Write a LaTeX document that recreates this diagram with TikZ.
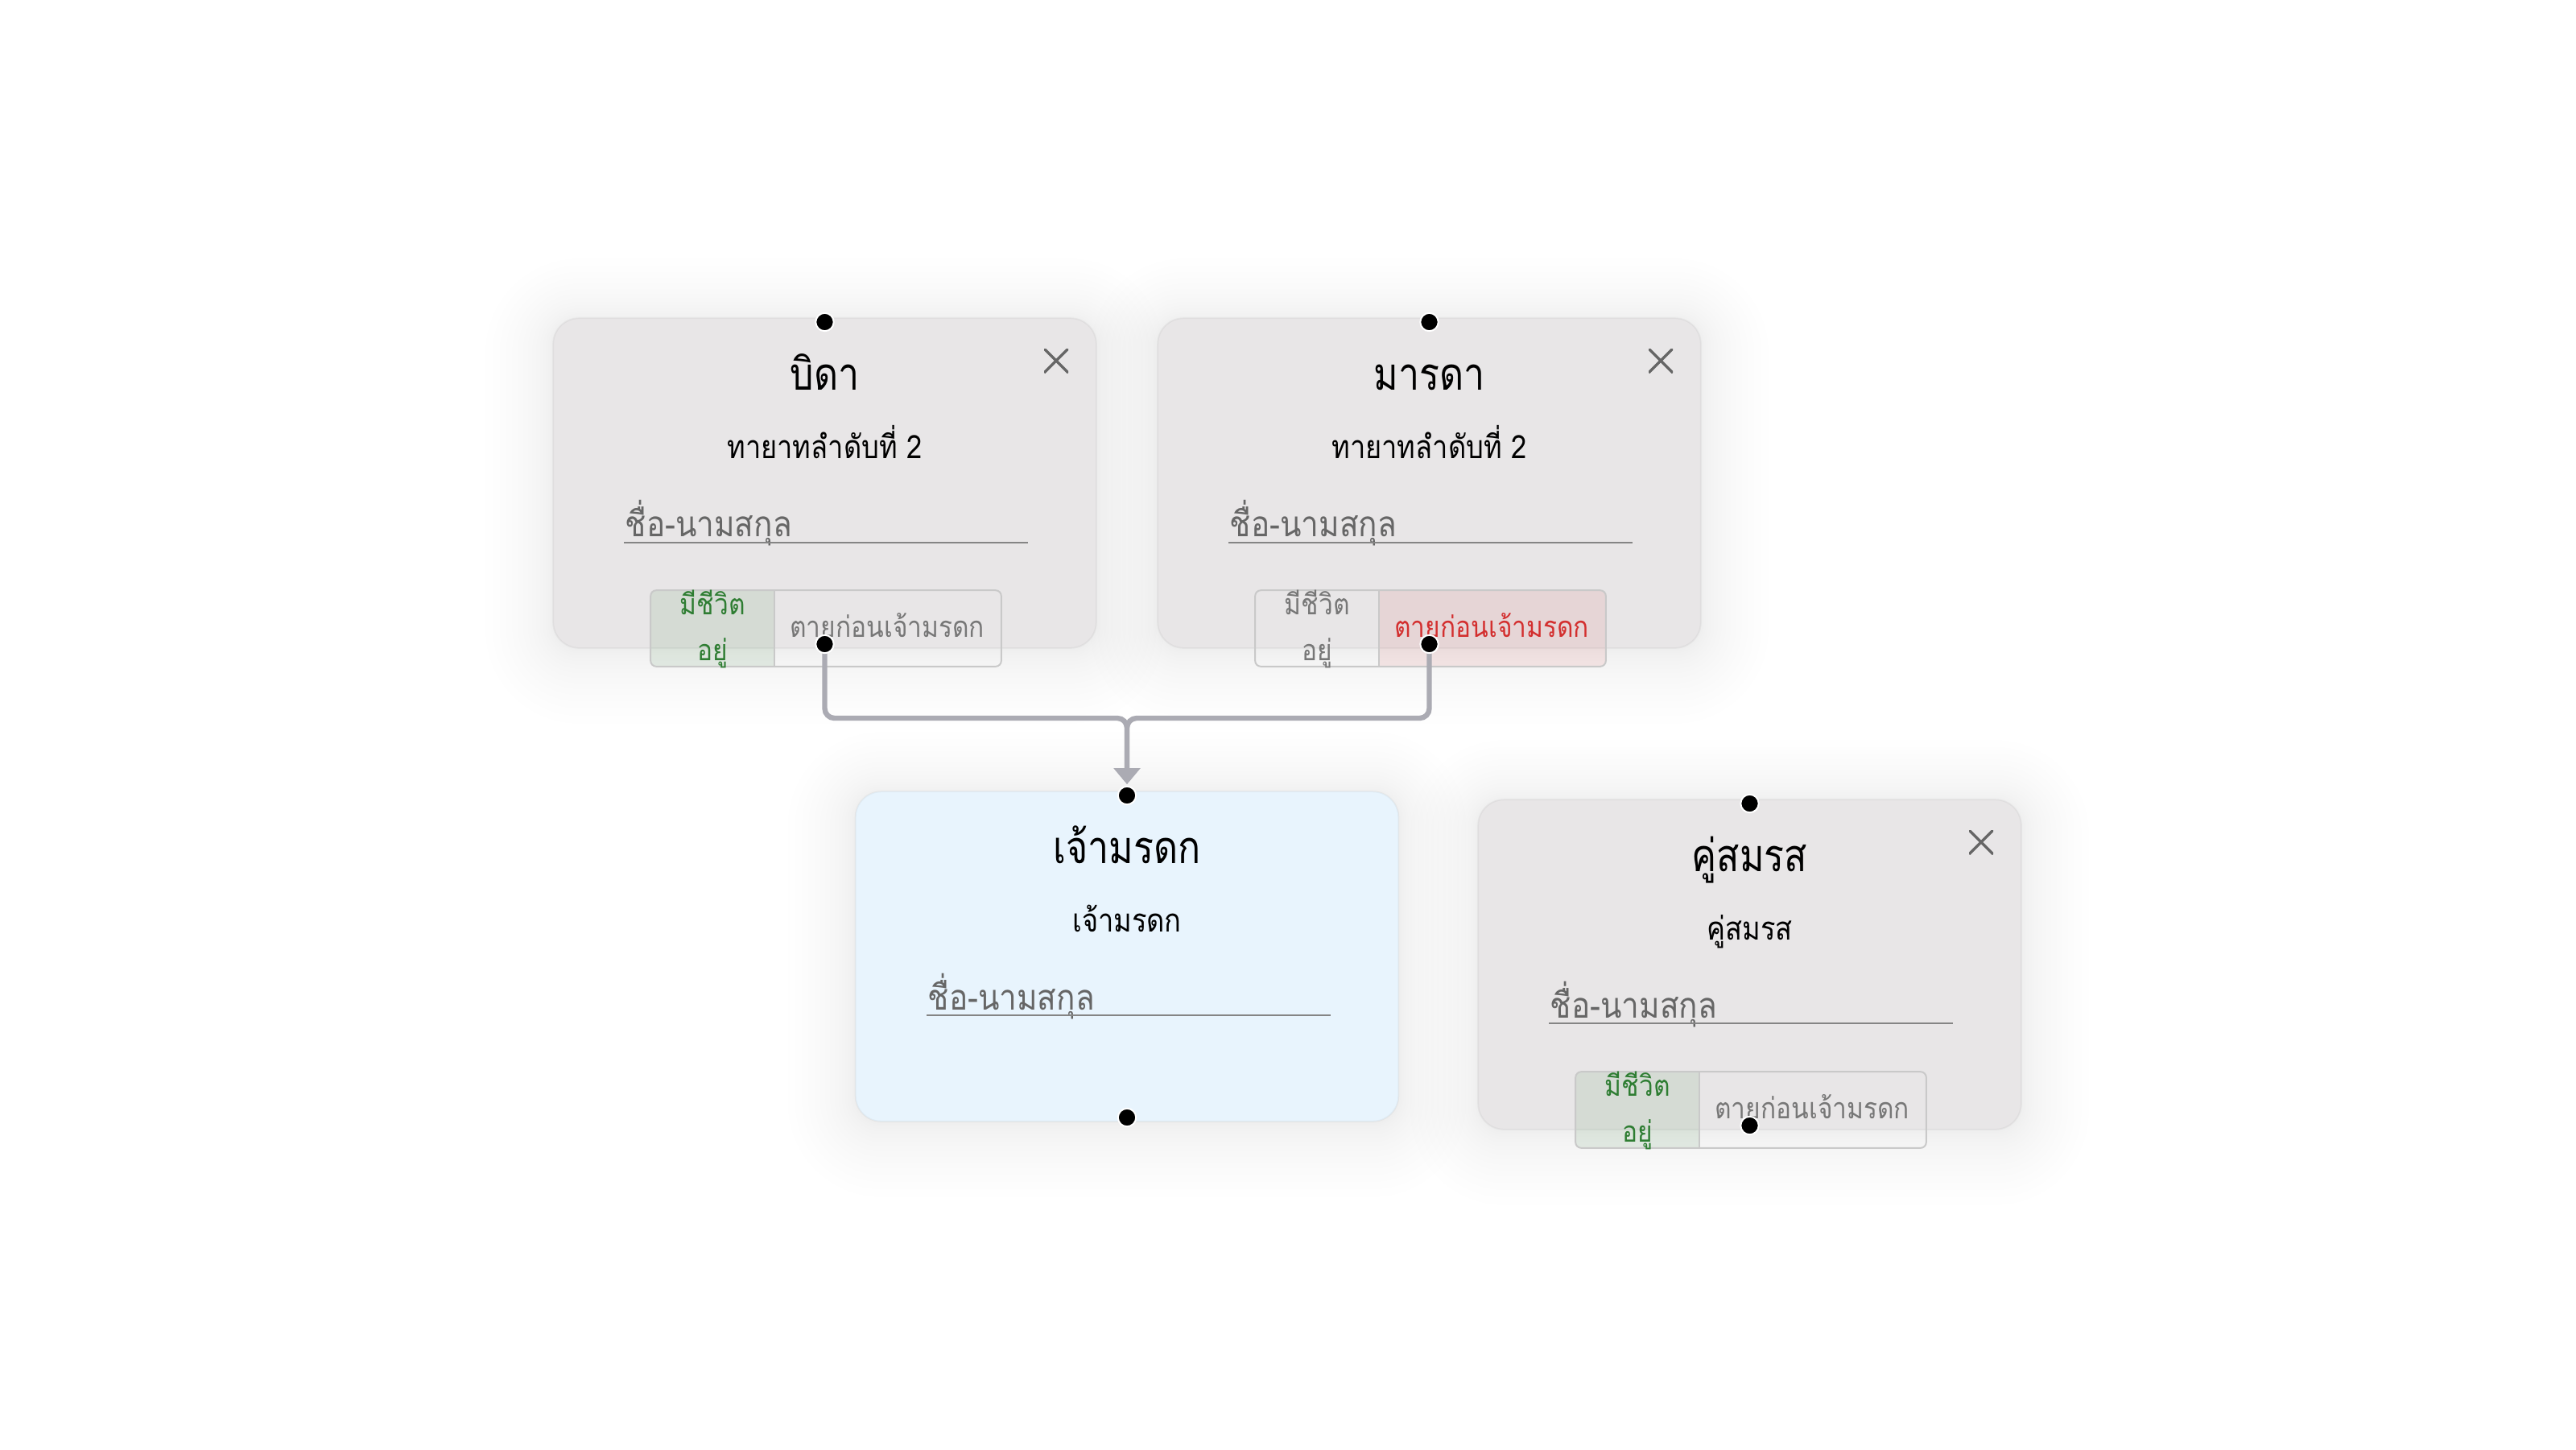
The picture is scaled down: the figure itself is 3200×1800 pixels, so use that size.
\documentclass[tikz,border=0pt]{standalone}
\usepackage{fontspec}
\newfontfamily\thaititle[Script=Thai,FakeStretch=0.83]{Loma}
\newfontfamily\thaisub[Script=Thai,FakeStretch=0.86]{Loma}
\newfontfamily\thaifield[Script=Thai,FakeStretch=0.88]{Loma}
\newfontfamily\thaismall[Script=Thai,FakeStretch=0.88]{Loma}
\usetikzlibrary{arrows.meta}

\definecolor{cardgray}{HTML}{E8E6E7}
\definecolor{cardblue}{HTML}{E8F4FD}
\definecolor{wirecolor}{HTML}{ABABB3}
\definecolor{placeholder}{HTML}{666666}
\definecolor{fieldrule}{HTML}{858585}
\definecolor{closegray}{HTML}{666666}
\definecolor{okgreen}{HTML}{2E7D32}
\definecolor{deadred}{HTML}{D32F2F}
\definecolor{mutedtext}{HTML}{777777}
\definecolor{togglerim}{HTML}{C9C9C9}

\tikzset{
  card/.style={rounded corners=8pt, minimum width=168.25pt, minimum height=102pt, inner sep=0pt, draw=none},
  cardface/.style={rounded corners=8pt, draw=black, draw opacity=0.035, line width=0.5pt},
  titletext/.style={font=\thaititle\fontsize{14}{16}\selectfont, text=black, anchor=base, inner sep=0pt},
  subtext/.style={font=\thaisub\fontsize{10}{12}\selectfont, text=black, anchor=base, inner sep=0pt},
  fieldtext/.style={font=\thaifield\fontsize{11}{13}\selectfont, text=placeholder, anchor=base west, inner sep=0pt},
  fieldline/.style={draw=fieldrule, line width=0.7pt},
  toggletext/.style={font=\thaismall\fontsize{9}{11}\selectfont, anchor=base, inner sep=0pt},
  togglerimline/.style={draw=togglerim, line width=0.5pt},
  closebtn/.style={minimum size=7.5pt, inner sep=0pt,
    path picture={\draw[closegray, line width=0.85pt]
      (path picture bounding box.north west) -- (path picture bounding box.south east)
      (path picture bounding box.north east) -- (path picture bounding box.south west);}},
  port/.style={circle, fill=black, draw=white, line width=0.5pt, minimum size=5.6pt, inner sep=0pt},
  wire/.style={draw=wirecolor, line width=1.6pt, rounded corners=3pt},
}

% soft shadow under a card node (layers packed densely near the edge)
\newcommand\softshadow[1]{%
  \foreach \k in {1,...,18}{%
    \pgfmathsetmacro\spread{21*(\k/18)^2}%
    \pgfmathsetmacro\rr{8+\spread}%
    \pgfmathsetmacro\drop{2.5*(\k/18)}%
    \fill[black, opacity=0.0036, rounded corners=\rr pt]
      ([xshift=-\spread pt, yshift=\spread pt-\drop pt]#1.north west) rectangle
      ([xshift=\spread pt, yshift=-\spread pt-\drop pt]#1.south east);
  }}

% two-state switch: #1 name, #2 centre, #3 = 1 alive chosen / 2 dead chosen
\newcommand\lifetoggle[3]{%
  \node[minimum width=108.5pt, minimum height=23.25pt, inner sep=0pt] (#1) at (#2) {};
  \begin{scope}
    \clip[rounded corners=1.75pt] (#1.north west) rectangle (#1.south east);
    \ifnum#3=1
      \fill[okgreen, fill opacity=0.1] (#1.north west) rectangle ([xshift=38.5pt]#1.south west);
    \else
      \fill[deadred, fill opacity=0.09] ([xshift=38.5pt]#1.north west) rectangle (#1.south east);
    \fi
  \end{scope}
  \draw[togglerimline, rounded corners=1.75pt] (#1.north west) rectangle (#1.south east);
  \draw[togglerimline] ([xshift=38.5pt]#1.north west) -- ([xshift=38.5pt]#1.south west);
  \ifnum#3=1 \def\leftcol{okgreen}\def\rightcol{mutedtext}\else\def\leftcol{mutedtext}\def\rightcol{deadred}\fi
  \node[toggletext, text=\leftcol] (#1-alive-a) at ([xshift=19.25pt, yshift=-7.5pt]#1.north west) {มีชีวิต};
  \node[toggletext, text=\leftcol] (#1-alive-b) at ([xshift=19.25pt, yshift=-21.75pt]#1.north west) {อยู่};
  \node[toggletext, text=\rightcol] (#1-dead) at ([xshift=73.5pt, yshift=-14.5pt]#1.north west) {ตายก่อนเจ้ามรดก};
}

\begin{document}
\begin{tikzpicture}[x=0.25pt, y=-0.25pt]
  \useasboundingbox (0,0) rectangle (3200,1800);
  \fill[white] (0,0) rectangle (3200,1800);

  % cards
  \node[card] (father) at (1024.5,600) {};
  \node[card] (mother) at (1775.5,600) {};
  \node[card] (deceased) at (1400,1188) {};
  \node[card] (spouse) at (2173.5,1198) {};
  \softshadow{father}
  \softshadow{mother}
  \softshadow{deceased}
  \softshadow{spouse}
  \filldraw[cardface, fill=cardgray] (father.north west) rectangle (father.south east);
  \filldraw[cardface, fill=cardgray] (mother.north west) rectangle (mother.south east);
  \filldraw[cardface, fill=cardblue] (deceased.north west) rectangle (deceased.south east);
  \filldraw[cardface, fill=cardgray] (spouse.north west) rectangle (spouse.south east);

  % father
  \node[titletext] (father-title) at (1024.5,484) {บิดา};
  \node[closebtn] (father-close) at (1312,448) {};
  \node[subtext] (father-rank) at (1024.5,569) {ทายาทลำดับที่ 2};
  \node[fieldtext] (father-name) at (776,666) {ชื่อ-นามสกุล};
  \draw[fieldline] (775,674) -- (1277,674);
  \lifetoggle{father-status}{1026,780.5}{1}

  % mother
  \node[titletext] (mother-title) at (1775.5,484) {มารดา};
  \node[closebtn] (mother-close) at (2063,448) {};
  \node[subtext] (mother-rank) at (1775.5,569) {ทายาทลำดับที่ 2};
  \node[fieldtext] (mother-name) at (1527,666) {ชื่อ-นามสกุล};
  \draw[fieldline] (1526,674) -- (2028,674);
  \lifetoggle{mother-status}{1777,780.5}{2}

  % deceased
  \node[titletext] (deceased-title) at (1400,1072) {เจ้ามรดก};
  \node[subtext] (deceased-role) at (1400,1157) {เจ้ามรดก};
  \node[fieldtext] (deceased-name) at (1152,1254) {ชื่อ-นามสกุล};
  \draw[fieldline] (1151,1261) -- (1653,1261);

  % spouse
  \node[titletext] (spouse-title) at (2173.5,1082) {คู่สมรส};
  \node[closebtn] (spouse-close) at (2461,1046) {};
  \node[subtext] (spouse-role) at (2173.5,1167) {คู่สมรส};
  \node[fieldtext] (spouse-name) at (1925,1264) {ชื่อ-นามสกุล};
  \draw[fieldline] (1924,1271) -- (2426,1271);
  \lifetoggle{spouse-status}{2175,1378.5}{1}

  % connection ports
  \coordinate (father-out) at (1024.5,800);
  \coordinate (mother-out) at (1775.5,800);
  \coordinate (merge) at (1400,892);
  \coordinate (inlet) at (1400,974);

  % parents to deceased
  \draw[wire, -{Triangle[width=8pt, length=5pt]}] (father-out) |- (merge) -- (inlet);
  \draw[wire, -{Triangle[width=8pt, length=5pt]}] (mother-out) |- (merge) -- (inlet);

  \node[port] (father-top) at (1024.5,400) {};
  \node[port] (father-bottom) at (father-out) {};
  \node[port] (mother-top) at (1775.5,400) {};
  \node[port] (mother-bottom) at (mother-out) {};
  \node[port] (deceased-top) at (1400,988) {};
  \node[port] (deceased-bottom) at (1400,1388) {};
  \node[port] (spouse-top) at (2173.5,998) {};
  \node[port] (spouse-bottom) at (2173.5,1398) {};
\end{tikzpicture}
\end{document}
